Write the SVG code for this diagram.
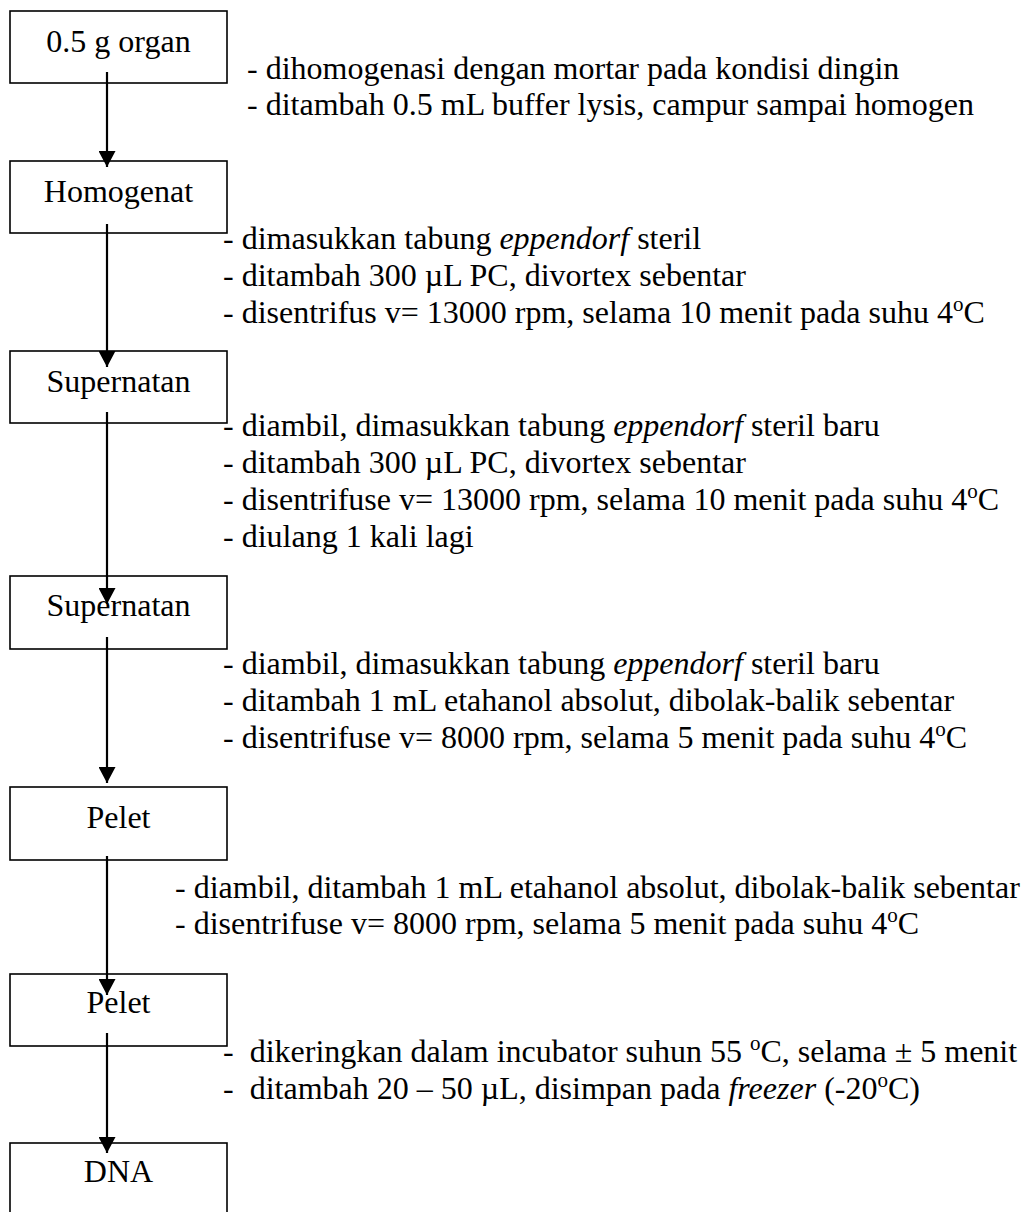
<svg xmlns="http://www.w3.org/2000/svg" width="1025" height="1212" viewBox="0 0 1025 1212">
<style>
  .box { fill: none; stroke: #000; stroke-width: 1.6; }
  .lbl { font-family: "Liberation Serif", "Times New Roman", serif; font-size: 32px; fill: #000; text-anchor: middle; }
  .note { font-family: "Liberation Serif", "Times New Roman", serif; font-size: 32px; fill: #000; }
  .sup { font-size: 21px; }
  .it { font-style: italic; }
  .conn { stroke: #000; stroke-width: 2.2; fill: none; marker-end: url(#arr); }
</style>
<defs>
  <marker id="arr" markerUnits="userSpaceOnUse" markerWidth="16" markerHeight="17" viewBox="0 0 15 16" refX="15" refY="8" orient="auto">
    <path d="M0,0 L15,8 L0,16 Z" fill="#000"/>
  </marker>
</defs>
<rect width="1025" height="1212" fill="#fff"/>

<g id="node-organ">
  <rect class="box" x="10" y="11" width="217" height="72"/>
  <text class="lbl" x="118.5" y="52">0.5 g organ</text>
</g>
<g id="node-homogenat">
  <rect class="box" x="10" y="161" width="217" height="72"/>
  <text class="lbl" x="118.5" y="202">Homogenat</text>
</g>
<g id="node-supernatan1">
  <rect class="box" x="10" y="351" width="217" height="72"/>
  <text class="lbl" x="118.5" y="392">Supernatan</text>
</g>
<g id="node-supernatan2">
  <rect class="box" x="10" y="576" width="217" height="73"/>
  <text class="lbl" x="118.5" y="616">Supernatan</text>
</g>
<g id="node-pelet1">
  <rect class="box" x="10" y="787" width="217" height="73"/>
  <text class="lbl" x="118.5" y="828">Pelet</text>
</g>
<g id="node-pelet2">
  <rect class="box" x="10" y="974" width="217" height="72"/>
  <text class="lbl" x="118.5" y="1013">Pelet</text>
</g>
<g id="node-dna">
  <rect class="box" x="10" y="1143" width="217" height="72"/>
  <text class="lbl" x="118.5" y="1182">DNA</text>
</g>

<g id="steps">
  <text class="note" x="247" y="79">- dihomogenasi dengan mortar pada kondisi dingin</text>
  <text class="note" x="247" y="115">- ditambah 0.5 mL buffer lysis, campur sampai homogen</text>

  <text class="note" x="223" y="249">- dimasukkan tabung <tspan class="it">eppendorf</tspan> steril</text>
  <text class="note" x="223" y="286">- ditambah 300 µL PC, divortex sebentar</text>
  <text class="note" x="223" y="323">- disentrifus v= 13000 rpm, selama 10 menit pada suhu 4<tspan class="sup" dy="-12">o</tspan><tspan dy="12">C</tspan></text>

  <text class="note" x="223" y="436">- diambil, dimasukkan tabung <tspan class="it">eppendorf</tspan> steril baru</text>
  <text class="note" x="223" y="473">- ditambah 300 µL PC, divortex sebentar</text>
  <text class="note" x="223" y="510">- disentrifuse v= 13000 rpm, selama 10 menit pada suhu 4<tspan class="sup" dy="-12">o</tspan><tspan dy="12">C</tspan></text>
  <text class="note" x="223" y="547">- diulang 1 kali lagi</text>

  <text class="note" x="223" y="674">- diambil, dimasukkan tabung <tspan class="it">eppendorf</tspan> steril baru</text>
  <text class="note" x="223" y="711">- ditambah 1 mL etahanol absolut, dibolak-balik sebentar</text>
  <text class="note" x="223" y="748">- disentrifuse v= 8000 rpm, selama 5 menit pada suhu 4<tspan class="sup" dy="-12">o</tspan><tspan dy="12">C</tspan></text>

  <text class="note" x="175" y="898">- diambil, ditambah 1 mL etahanol absolut, dibolak-balik sebentar</text>
  <text class="note" x="175" y="934">- disentrifuse v= 8000 rpm, selama 5 menit pada suhu 4<tspan class="sup" dy="-12">o</tspan><tspan dy="12">C</tspan></text>

  <text class="note" x="223" y="1062" xml:space="preserve">-  dikeringkan dalam incubator suhun 55 <tspan class="sup" dy="-12">o</tspan><tspan dy="12">C, selama ± 5 menit</tspan></text>
  <text class="note" x="223" y="1099" xml:space="preserve">-  ditambah 20 – 50 µL, disimpan pada <tspan class="it">freezer</tspan> (-20<tspan class="sup" dy="-12">o</tspan><tspan dy="12">C)</tspan></text>
</g>

<g id="connectors">
  <line class="conn" x1="107" y1="72" x2="107" y2="167"/>
  <line class="conn" x1="107" y1="224" x2="107" y2="367"/>
  <line class="conn" x1="107" y1="412" x2="107" y2="604"/>
  <line class="conn" x1="107" y1="637" x2="107" y2="783"/>
  <line class="conn" x1="107" y1="856" x2="107" y2="995"/>
  <line class="conn" x1="107" y1="1033" x2="107" y2="1153"/>
</g>
</svg>
